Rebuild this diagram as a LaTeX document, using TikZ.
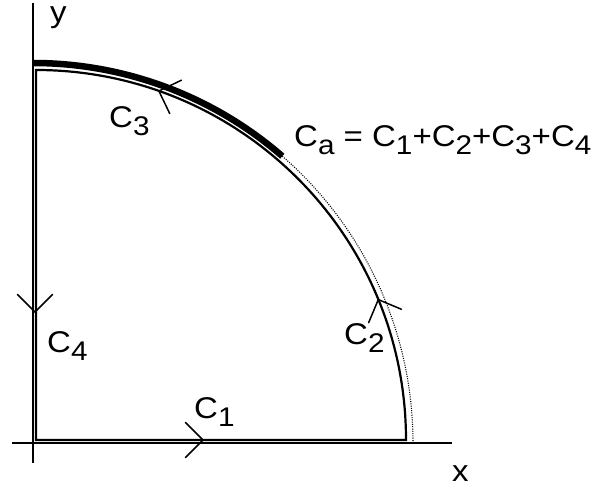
\documentclass[tikz,border=0pt]{standalone}
\usepackage{fontspec}
\setmainfont{Liberation Sans}
\usepackage{graphicx}
\newcommand\Csub[1]{C\raisebox{-8pt}{\fontsize{27}{27}\selectfont #1}}
\newcommand\wide[1]{\scalebox{1.1}[1]{#1}}
\tikzset{
  lbl/.style={font=\fontsize{30}{32}\selectfont, inner sep=0pt, anchor=base west},
  axisln/.style={line width=1.5pt},
  contourln/.style={line width=2.2pt},
  thickarc/.style={line width=6.5pt},
  dotarc/.style={line width=1.1pt, dash pattern=on 1pt off 1.3pt},
  chev/.style={line width=1.5pt, line cap=round}
}
\begin{document}
\begin{tikzpicture}[x=1pt,y=1pt]
\useasboundingbox (0,0) rectangle (598,492);
% axes
\coordinate (O) at (33,49);
\coordinate (ytop) at (33,489);
\coordinate (ybot) at (33,29);
\coordinate (xleft) at (12,49);
\coordinate (xright) at (452,49);
\draw[axisln] (ybot) -- (ytop);
\draw[axisln] (xleft) -- (xright);
% contour
\coordinate (K) at (36,52);
\coordinate (Kr) at (406,52);
\draw[contourln, line join=miter] (K) -- (Kr) arc[start angle=0, end angle=90, radius=370pt] -- cycle;
% outer arcs
\coordinate (Atop) at (33,429);
\draw[thickarc] (Atop) arc[start angle=90, end angle=49, radius=380pt] coordinate (Aend);
\draw[dotarc] (Aend) arc[start angle=49, end angle=0, radius=380pt];
% chevrons
\coordinate (t1) at (203,52);
\coordinate (t2) at (378.3,192.4);
\coordinate (t3) at (158.9,401);
\coordinate (t4) at (35,180);
\draw[chev] (t1) ++(135:25pt) -- (t1) -- ++(225:25pt);
\draw[chev] (t2) ++(-22.7:25pt) -- (t2) -- ++(-112.7:25pt);
\draw[chev] (t3) ++(25.6:25pt) -- (t3) -- ++(-64.4:25pt);
\draw[chev] (t4) ++(45:25pt) -- (t4) -- ++(135:25pt);
% labels
\node[lbl] (ylab) at (50,469) {\wide{y}};
\node[lbl] (xlab) at (452,10) {\wide{x}};
\node[lbl] (c1) at (194,73) {\wide{\Csub{1}}};
\node[lbl] (c2) at (344,147) {\wide{\Csub{2}}};
\node[lbl] (c3) at (109,364) {\wide{\Csub{3}}};
\node[lbl] (c4) at (47,139) {\wide{\Csub{4}}};
\node[lbl] (ca) at (294,345) {\wide{\Csub{a} = \Csub{1}+\Csub{2}+\Csub{3}+\Csub{4}}};
\end{tikzpicture}
\end{document}
